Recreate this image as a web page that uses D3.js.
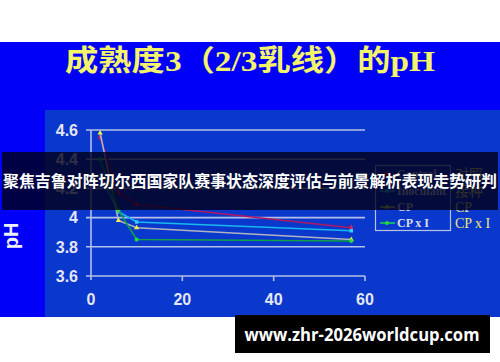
<!DOCTYPE html>
<html><head><meta charset="utf-8">
<script src="https://cdn.jsdelivr.net/npm/d3@7"></script>
<style>html,body{margin:0;padding:0;background:#fff;}svg{display:block;}</style>
</head><body>
<svg id="c" width="500" height="362"></svg>
<script>
const days = [2, 6, 10, 57];
const control = [4.55, 4.17, 4.09, 3.93];
const inoculant = [4.29, 4.04, 3.97, 3.91];
const cp = [4.58, 3.98, 3.93, 3.85];
const cpxi = [4.40, 4.05, 3.85, 3.84];
const seriesNames = ["Control", "Inoculant", "CP", "CP x I"];
const seriesCN = ["对照", "接种", "CP", "CP x I"];
const yTicks = [3.6, 3.8, 4.0, 4.2, 4.4, 4.6];
const xTicks = [0, 20, 40, 60];
const titleText = "成熟度3（2/3乳线）的pH";
const yLabel = "pH";
const bannerText = "聚焦吉鲁对阵切尔西国家队赛事状态深度评估与前景解析表现走势研判";
const urlText = "www.zhr-2026worldcup.com";

const svg = d3.select("#c");
const x = d3.scaleLinear().domain([0, 60]).range([91, 365]);
const y = d3.scaleLinear().domain([3.6, 4.6]).range([276, 130]);

// backgrounds
svg.append("rect").attr("x",0).attr("y",42).attr("width",500).attr("height",275).attr("fill","#0000f8");
svg.append("rect").attr("x",45).attr("y",110).attr("width",455).attr("height",207).attr("fill","#0a38cc");

// title
svg.append("text").attr("x",250).attr("y",71).attr("text-anchor","middle")
  .attr("font-family","'Liberation Serif','Noto Sans CJK SC',serif").attr("font-weight","bold")
  .attr("font-size",29).attr("fill","#f4f46a")
  .attr("textLength",370).attr("lengthAdjust","spacingAndGlyphs").text(titleText);

const axisCol = "#b4bfe8";
// gridlines
const g = svg.append("g");
g.selectAll("line.grid").data(yTicks).join("line")
  .attr("x1",86).attr("x2",x(60)).attr("y1",d=>y(d)).attr("y2",d=>y(d))
  .attr("stroke",axisCol).attr("stroke-width",1.6);
// y axis
g.append("line").attr("x1",x(0)).attr("x2",x(0)).attr("y1",y(4.6)).attr("y2",y(3.6)+4)
  .attr("stroke",axisCol).attr("stroke-width",1.6);
// x ticks
g.selectAll("line.xt").data(xTicks.slice(1)).join("line")
  .attr("x1",d=>x(d)).attr("x2",d=>x(d)).attr("y1",y(3.6)).attr("y2",y(3.6)+5)
  .attr("stroke",axisCol).attr("stroke-width",1.6);

// tick labels
g.selectAll("text.yl").data(yTicks).join("text")
  .attr("x",78).attr("y",d=>y(d)).attr("dy","0.36em").attr("text-anchor","end")
  .attr("font-family","'Liberation Sans',Arial,sans-serif").attr("font-weight","bold")
  .attr("font-size",16).attr("fill","#e4e6f6").text(d=>d3.format("~g")(d));
g.selectAll("text.xl").data(xTicks).join("text")
  .attr("x",d=>x(d)).attr("y",305).attr("text-anchor","middle")
  .attr("font-family","'Liberation Sans',Arial,sans-serif").attr("font-weight","bold")
  .attr("font-size",16).attr("fill","#e4e6f6").text(d=>d);

// y label
svg.append("text").attr("transform","translate(18,236) rotate(-90)").attr("text-anchor","middle")
  .attr("font-family","'Liberation Sans',Arial,sans-serif").attr("font-weight","bold")
  .attr("font-size",20).attr("fill","#eef0fa").text(yLabel);

// series
const series = [
  {name:seriesNames[0], vals:control, line:"#b01860", mark:"#e02050", shape:d3.symbolDiamond},
  {name:seriesNames[1], vals:inoculant, line:"#18b8f0", mark:"#30d0ff", shape:d3.symbolSquare},
  {name:seriesNames[2], vals:cp, line:"#b0b4c0", mark:"#f0f040", shape:d3.symbolTriangle},
  {name:seriesNames[3], vals:cpxi, line:"#10a048", mark:"#20e040", shape:d3.symbolCircle}
];
const line = d3.line().x((d,i)=>x(days[i])).y(d=>y(d));
series.forEach(s=>{
  svg.append("path").attr("d",line(s.vals)).attr("fill","none")
    .attr("stroke",s.line).attr("stroke-width",1.6);
  svg.selectAll(null).data(s.vals).join("path")
    .attr("transform",(d,i)=>`translate(${x(days[i])},${y(d)})`)
    .attr("d",d3.symbol().type(s.shape).size(12)).attr("fill",s.mark);
});

// legend
const leg = svg.append("g");
leg.append("rect").attr("x",375.5).attr("y",165.5).attr("width",75).attr("height",65)
  .attr("fill","none").attr("stroke","#b8c0e4").attr("stroke-width",1.2);
const ly = [174, 191, 207, 223];
series.forEach((s,i)=>{
  leg.append("line").attr("x1",380).attr("x2",395).attr("y1",ly[i]).attr("y2",ly[i])
    .attr("stroke",s.mark).attr("stroke-width",1.4);
  leg.append("path").attr("transform",`translate(387,${ly[i]})`)
    .attr("d",d3.symbol().type(s.shape).size(12)).attr("fill",s.mark);
  leg.append("text").attr("x",397).attr("y",ly[i]).attr("dy","0.35em")
    .attr("font-family","'Liberation Serif',serif").attr("font-weight","bold")
    .attr("font-size",12).attr("fill","#dcdcec").text(s.name);
  leg.append("text").attr("x",455).attr("y",ly[i]).attr("dy","0.36em")
    .attr("font-family","'Liberation Serif','Noto Sans CJK SC',serif")
    .attr("font-size",14).attr("fill","#e8e878").text(seriesCN[i]);
});

// banner
svg.append("rect").attr("x",2).attr("y",152).attr("width",496).attr("height",58)
  .attr("fill","rgba(0,0,22,0.8)");
svg.append("text").attr("x",250).attr("y",181).attr("dy","0.36em").attr("text-anchor","middle")
  .attr("font-family","'Noto Sans CJK SC',sans-serif").attr("font-weight","bold")
  .attr("font-size",16).attr("fill","#ffffff")
  .attr("textLength",494).attr("lengthAdjust","spacingAndGlyphs").text(bannerText);

// url box
svg.append("rect").attr("x",235).attr("y",315).attr("width",255).attr("height",38).attr("fill","#000");
svg.append("text").attr("x",362).attr("y",335).attr("dy","0.36em").attr("text-anchor","middle")
  .attr("font-family","'Open Sans','Noto Sans',sans-serif").attr("font-weight","bold")
  .attr("font-size",17).attr("fill","#ffffff")
  .attr("textLength",235).attr("lengthAdjust","spacingAndGlyphs").text(urlText);
</script>
</body></html>
